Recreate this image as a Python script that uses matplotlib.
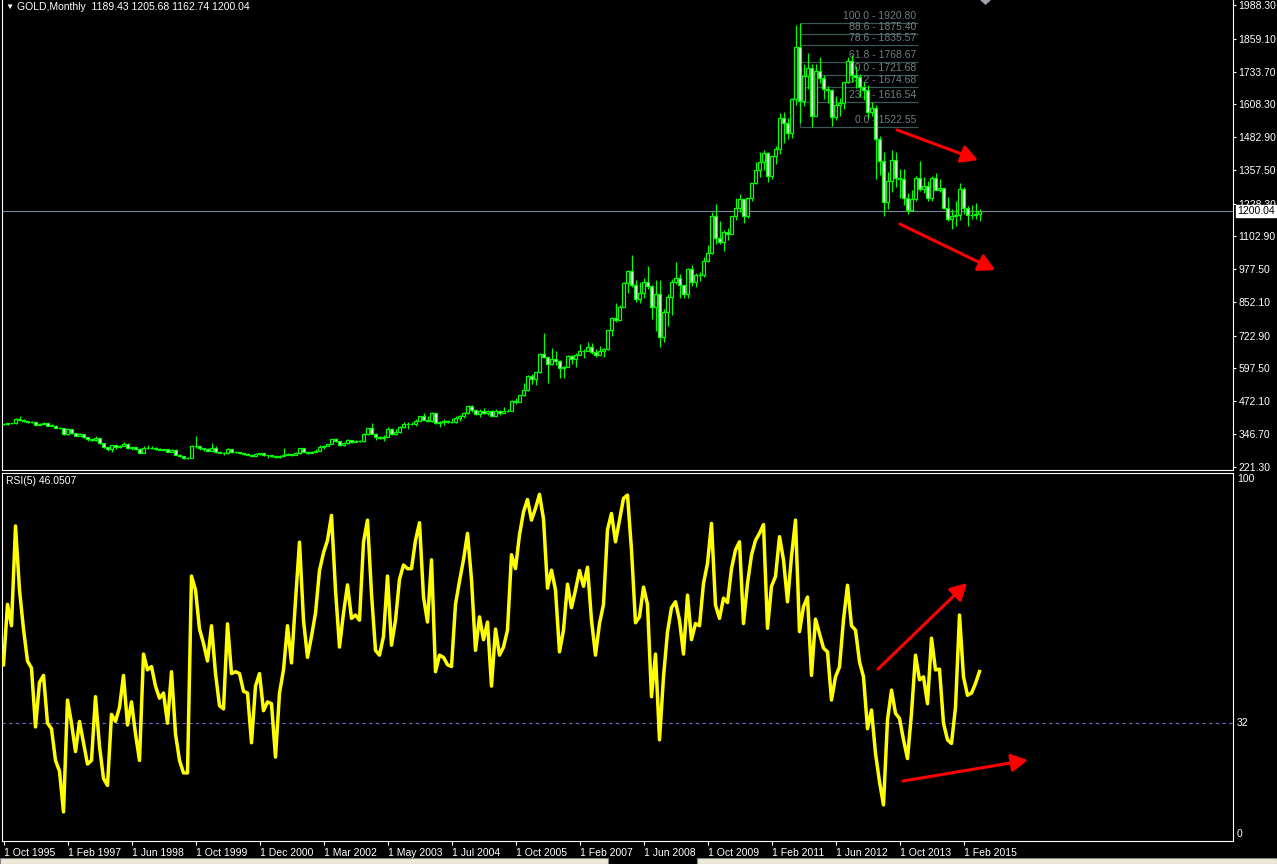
import matplotlib
matplotlib.use('Agg')
import matplotlib.pyplot as plt
from matplotlib.patches import Rectangle, Polygon
import numpy as np

# ---- data (monthly bars, index 0 = Oct 1995) ----
opens = [
    384, 383, 387, 387, 405, 400, 396, 392, 391, 382,
    385, 387, 379, 379, 371, 369, 345, 364, 349, 340,
    345, 334, 326, 325, 332, 311, 296, 290, 304, 297,
    301, 310, 293, 296, 288, 273, 294, 292, 294, 288,
    287, 288, 279, 286, 268, 261, 255, 254, 299, 299,
    292, 290, 283, 293, 277, 274, 272, 289, 276, 277,
    273, 270, 268, 264, 270, 273, 265, 267, 263, 258,
    264, 267, 270, 265, 273, 293, 279, 275, 279, 282,
    297, 302, 308, 326, 318, 305, 312, 324, 317, 318,
    319, 347, 368, 348, 334, 333, 336, 364, 346, 354,
    375, 384, 386, 386, 398, 416, 400, 396, 427, 387,
    394, 395, 393, 391, 407, 416, 428, 452, 438, 422,
    435, 428, 435, 417, 435, 428, 433, 436, 473, 470,
    495, 513, 568, 556, 583, 654, 643, 613, 633, 624,
    599, 604, 646, 632, 650, 665, 663, 680, 659, 650,
    665, 672, 743, 789, 783, 834, 923, 972, 916, 864,
    885, 928, 912, 833, 884, 718, 815, 869, 927, 942,
    916, 883, 979, 927, 955, 955, 1008, 1040, 1182, 1096,
    1081, 1118, 1113, 1179, 1213, 1244, 1181, 1248, 1307, 1357,
    1386, 1421, 1333, 1410, 1439, 1556, 1536, 1500, 1628, 1828,
    1620, 1717, 1746, 1565, 1737, 1710, 1668, 1664, 1560, 1604,
    1614, 1692, 1773, 1719, 1712, 1676, 1663, 1579, 1595, 1476,
    1393, 1234, 1313, 1396, 1327, 1323, 1250, 1202, 1244, 1326,
    1284, 1296, 1250, 1327, 1282, 1287, 1211, 1171, 1182, 1184,
    1283, 1213, 1183, 1184, 1189.43]

highs = [
    387, 390, 389, 409, 416, 402, 398, 395, 392, 389,
    391, 388, 386, 382, 373, 369, 366, 366, 349, 349,
    346, 335, 332, 337, 333, 313, 297, 305, 305, 303,
    314, 311, 298, 297, 291, 301, 305, 299, 297, 293,
    290, 290, 290, 290, 270, 264, 259, 305, 338, 302,
    294, 294, 313, 301, 283, 278, 294, 290, 281, 279,
    275, 273, 270, 272, 275, 274, 268, 268, 264, 265,
    293, 274, 271, 278, 294, 294, 279, 281, 288, 303,
    303, 310, 327, 330, 320, 315, 327, 325, 322, 322,
    350, 370, 389, 352, 340, 342, 374, 371, 367, 378,
    391, 393, 391, 402, 417, 426, 414, 430, 428, 395,
    404, 399, 409, 417, 419, 430, 455, 457, 440, 441,
    446, 439, 438, 443, 437, 448, 442, 476, 486, 497,
    540, 572, 575, 584, 655, 732, 645, 677, 664, 630,
    608, 650, 648, 655, 690, 671, 697, 693, 672, 683,
    675, 745, 795, 848, 840, 930, 975, 1032, 936, 930,
    945, 989, 915, 935, 935, 825, 881, 940, 1006, 958,
    917, 982, 992, 962, 966, 1024, 1071, 1195, 1227, 1163,
    1128, 1135, 1181, 1249, 1266, 1246, 1250, 1308, 1388, 1424,
    1432, 1424, 1412, 1448, 1576, 1577, 1557, 1632, 1912, 1921,
    1764, 1803, 1764, 1764, 1791, 1720, 1677, 1667, 1640, 1631,
    1692, 1790, 1796, 1754, 1723, 1694, 1683, 1617, 1605, 1488,
    1424, 1348, 1434, 1424, 1362, 1361, 1267, 1280, 1332, 1392,
    1331, 1315, 1332, 1345, 1323, 1287, 1255, 1207, 1239, 1307,
    1292, 1220, 1224, 1232, 1205.68]

lows = [
    381, 382, 385, 386, 398, 394, 389, 389, 380, 380,
    384, 377, 377, 369, 366, 342, 341, 347, 337, 338,
    333, 318, 318, 320, 307, 293, 283, 278, 290, 292,
    300, 290, 287, 286, 272, 272, 288, 290, 285, 285,
    283, 278, 279, 265, 257, 252, 252, 254, 294, 286,
    281, 281, 283, 274, 272, 268, 271, 275, 274, 270,
    268, 266, 262, 263, 266, 263, 255, 259, 255, 255,
    263, 265, 264, 265, 270, 277, 269, 272, 277, 281,
    288, 300, 307, 315, 301, 300, 310, 312, 314, 315,
    317, 344, 345, 322, 328, 320, 335, 342, 342, 351,
    370, 367, 380, 379, 396, 399, 391, 392, 386, 372,
    382, 388, 387, 389, 398, 409, 423, 431, 418, 411,
    423, 421, 414, 414, 418, 425, 430, 434, 461, 468,
    490, 512, 538, 535, 580, 636, 543, 610, 612, 560,
    560, 603, 613, 603, 649, 636, 663, 651, 640, 647,
    642, 669, 723, 775, 782, 833, 885, 910, 851, 849,
    866, 903, 786, 740, 681, 700, 760, 803, 920, 866,
    866, 866, 913, 908, 931, 949, 1003, 1035, 1075, 1075,
    1045, 1088, 1110, 1164, 1196, 1155, 1175, 1240, 1305, 1330,
    1357, 1309, 1324, 1381, 1419, 1462, 1477, 1478, 1604, 1535,
    1600, 1667, 1523, 1562, 1689, 1627, 1615, 1527, 1547, 1564,
    1589, 1689, 1694, 1672, 1636, 1626, 1555, 1562, 1321, 1338,
    1180, 1207, 1274, 1291, 1251, 1221, 1187, 1200, 1238, 1277,
    1268, 1240, 1240, 1281, 1273, 1206, 1161, 1131, 1142, 1167,
    1190, 1142, 1170, 1170, 1162.74]

closes = [
    383, 387, 387, 405, 400, 396, 392, 391, 382, 385,
    387, 379, 379, 371, 369, 345, 364, 349, 340, 345,
    334, 326, 325, 332, 311, 296, 290, 304, 297, 301,
    310, 293, 296, 288, 273, 294, 292, 294, 288, 287,
    288, 279, 286, 268, 261, 255, 254, 299, 299, 292,
    290, 283, 293, 277, 274, 272, 289, 276, 277, 273,
    270, 268, 264, 270, 273, 265, 267, 263, 258, 264,
    267, 270, 265, 273, 293, 279, 275, 279, 282, 297,
    302, 308, 326, 318, 305, 312, 324, 317, 318, 319,
    347, 368, 348, 334, 333, 336, 364, 346, 354, 375,
    384, 386, 386, 398, 416, 400, 396, 427, 387, 394,
    395, 393, 391, 407, 416, 428, 452, 438, 422, 435,
    428, 435, 417, 435, 428, 433, 436, 473, 470, 495,
    513, 568, 556, 583, 654, 643, 613, 633, 624, 599,
    604, 646, 632, 650, 665, 663, 680, 659, 650, 665,
    672, 743, 789, 783, 834, 923, 972, 916, 864, 885,
    928, 912, 833, 884, 718, 815, 869, 927, 942, 916,
    883, 979, 927, 955, 955, 1008, 1040, 1182, 1096, 1081,
    1118, 1113, 1179, 1213, 1244, 1181, 1248, 1307, 1357, 1386,
    1421, 1333, 1410, 1439, 1556, 1536, 1500, 1628, 1828, 1620,
    1717, 1746, 1565, 1737, 1710, 1668, 1664, 1560, 1604, 1614,
    1692, 1773, 1719, 1712, 1676, 1663, 1579, 1595, 1476, 1393,
    1234, 1313, 1396, 1327, 1323, 1250, 1202, 1244, 1326, 1284,
    1296, 1250, 1327, 1282, 1287, 1211, 1171, 1182, 1184, 1283,
    1213, 1183, 1184, 1190, 1200.04]

rsi = [
    47.9, 64.3, 58.5, 85.6, 68.2, 57.6, 48.9, 47.0, 31.0, 43.1,
    45.0, 32.0, 30.5, 21.9, 19.0, 7.9, 38.3, 32.0, 24.3, 32.5,
    26.7, 20.9, 21.9, 39.2, 25.7, 17.0, 15.1, 34.4, 32.5, 36.3,
    45.0, 31.5, 37.8, 29.1, 21.9, 50.8, 46.5, 47.4, 42.1, 38.8,
    40.2, 32.0, 46.0, 29.1, 21.9, 18.5, 18.5, 72.0, 68.2, 57.6,
    53.7, 48.9, 58.5, 45.5, 36.8, 35.9, 59.0, 45.5, 46.0, 45.5,
    40.7, 40.2, 26.7, 42.1, 45.5, 35.4, 37.8, 37.3, 22.8, 40.2,
    46.5, 58.5, 48.4, 65.3, 81.2, 60.0, 49.9, 55.6, 61.9, 73.5,
    78.3, 81.7, 88.5, 68.2, 52.7, 61.9, 69.6, 60.5, 61.4, 60.0,
    81.2, 87.2, 67.2, 51.8, 50.5, 55.6, 72.0, 53.2, 60.0, 71.1,
    75.0, 74.0, 74.0, 81.7, 86.5, 66.3, 59.5, 76.4, 46.0, 50.5,
    49.9, 47.9, 47.4, 64.3, 70.6, 76.4, 83.6, 71.1, 51.8, 60.9,
    54.7, 59.5, 42.1, 57.6, 50.5, 52.7, 57.3, 77.8, 74.0, 83.2,
    89.4, 92.8, 87.2, 90.4, 94.2, 87.5, 68.7, 73.6, 68.2, 51.4,
    57.3, 69.8, 63.4, 68.2, 73.5, 69.2, 74.4, 60.0, 50.5, 59.1,
    64.3, 84.6, 89.0, 81.3, 87.2, 93.1, 94.0, 79.1, 59.3, 60.9,
    69.0, 64.3, 39.2, 50.8, 27.5, 44.6, 56.8, 63.4, 65.0, 60.0,
    50.8, 66.8, 54.7, 59.1, 58.5, 70.0, 75.4, 86.3, 64.1, 60.5,
    66.0, 64.8, 74.0, 79.1, 81.3, 59.1, 70.0, 77.7, 81.7, 83.6,
    86.0, 57.8, 69.2, 71.9, 82.7, 76.4, 65.0, 77.3, 87.2, 56.9,
    63.7, 66.3, 45.0, 60.3, 56.4, 52.4, 51.4, 38.3, 44.6, 47.3,
    60.1, 69.5, 58.5, 57.3, 48.7, 44.6, 30.5, 35.6, 23.8, 16.1,
    9.8, 32.9, 41.0, 34.7, 33.3, 27.5, 22.4, 34.7, 50.5, 43.8,
    44.6, 37.3, 55.1, 46.5, 46.7, 32.0, 27.5, 26.5, 36.3, 61.4,
    44.6, 39.6, 40.2, 42.8, 46.05]

price_ticks = [1988.30, 1859.10, 1733.70, 1608.30, 1482.90, 1357.50, 1228.30,
               1102.90, 977.50, 852.10, 722.90, 597.50, 472.10, 346.70, 221.30]
date_labels = ['1 Oct 1995', '1 Feb 1997', '1 Jun 1998', '1 Oct 1999', '1 Dec 2000',
               '1 Mar 2002', '1 May 2003', '1 Jul 2004', '1 Oct 2005', '1 Feb 2007',
               '1 Jun 2008', '1 Oct 2009', '1 Feb 2011', '1 Jun 2012', '1 Oct 2013',
               '1 Feb 2015']
fib_levels = ['100.0', '88.6', '78.6', '61.8', '50.0', '38.2', '23.6', '0.0']
fib_prices = [1920.80, 1875.40, 1835.57, 1768.67, 1721.68, 1674.68, 1616.54, 1522.55]
bid = 1200.04
rsi_level = 32

# ---- figure ----
W, H = 1277, 864
plt.rcParams['font.family'] = ['Liberation Sans', 'DejaVu Sans']
fig = plt.figure(figsize=(W / 100, H / 100), dpi=100, facecolor='black')

def px_axes(x0, y0, x1, y1):
    a = fig.add_axes([x0 / W, 1 - y1 / H, (x1 - x0) / W, (y1 - y0) / H])
    a.set_facecolor('black')
    return a

ax = px_axes(2, 0, 1233, 470)
ax2 = px_axes(2, 473, 1233, 841)

o = np.array(opens); h = np.array(highs); l = np.array(lows); c = np.array(closes)
idx = np.arange(len(c))
up = c >= o
lime = '#00ff00'

# candles: wicks, then bull (black) and bear (white) bodies
ax.vlines(idx, l, h, color=lime, lw=0.9, zorder=3)
ax.bar(idx[up], np.maximum(c - o, 0.5)[up], bottom=o[up], width=0.62,
       color='black', edgecolor=lime, lw=0.9, zorder=4)
ax.bar(idx[~up], (o - c)[~up], bottom=c[~up], width=0.62,
       color='white', edgecolor=lime, lw=0.9, zorder=4)

# fibonacci retracement (behind the candles)
fib_x0, fib_x1 = 199, 228.6
fib_col = '#3b5757'
ax.vlines(fib_x0, fib_prices[-1], fib_prices[0], color=fib_col, lw=0.9, zorder=1)
for lv, pr in zip(fib_levels, fib_prices):
    ax.hlines(pr, fib_x0, fib_x1, color=fib_col, lw=0.9, zorder=1)
    ax.annotate(f'{lv} - {pr:.2f}', (fib_x1, pr), xytext=(-1, 1.5),
                textcoords='offset points', ha='right', va='bottom',
                color='#6e7f80', fontsize=7.5, zorder=1)

# bid line and its label
ax.axhline(bid, color='#778899', lw=0.8, zorder=2)
ax.annotate(f'{bid:.2f}', xy=(1, bid), xycoords=('axes fraction', 'data'),
            xytext=(4, 0), textcoords='offset pixels', ha='left', va='center',
            fontsize=7.5, color='black', annotation_clip=False, zorder=10,
            bbox=dict(boxstyle='square,pad=0.12', fc='white', ec='white'))

ax.set_xlim(-0.375, 307.375)
ax.set_ylim(208.7, 2007.4)
ax.set_xticks([])
ax.yaxis.tick_right()
ax.set_yticks(price_ticks)
ax.set_yticklabels([f'{v:.2f}' for v in price_ticks])
ax.tick_params(axis='y', colors='white', labelsize=7.5, length=2.5, width=0.8,
               pad=1.5, direction='out')

# RSI panel
ax2.plot(idx, rsi, color='#ffff00', lw=2.5, solid_joinstyle='round', zorder=3)
ax2.axhline(rsi_level, color='#6a6acd', lw=0.8, ls=(0, (3, 3)), zorder=2)
ax2.set_xlim(-0.375, 307.375)
ax2.set_ylim(0, 100)
ax2.set_yticks([])
ax2.set_xticks(np.arange(0, 16 * len(date_labels), 16))
ax2.set_xticklabels(date_labels)
for lbl in ax2.get_xticklabels():
    lbl.set_ha('left')
ax2.tick_params(axis='x', colors='white', labelsize=7.5, length=3, width=0.8,
                pad=2, direction='out')
for val, txt in [(98.4, '100'), (rsi_level, '32'), (1.9, '0')]:
    ax2.annotate(txt, xy=(1, val), xycoords=('axes fraction', 'data'),
                 xytext=(4, 0), textcoords='offset pixels', ha='left', va='center',
                 fontsize=7.5, color='white', annotation_clip=False)

for a in (ax, ax2):
    for s in a.spines.values():
        s.set_color('white')
        s.set_linewidth(0.8)
ax.spines['top'].set_visible(False)

# hand-drawn red arrows
arrow_kw = dict(arrowstyle='-|>,head_length=0.55,head_width=0.3', color='red',
                lw=2.2, mutation_scale=18, shrinkA=0, shrinkB=0)
for start, end in [((223.4, 1510), (243.6, 1395)), ((224.1, 1150), (247.9, 974))]:
    ax.annotate('', xy=end, xytext=start, arrowprops=arrow_kw, annotation_clip=False, zorder=12)
for start, end in [((218.6, 46.7), (240.9, 70.1)), ((224.9, 16.3), (256.1, 22.0))]:
    ax2.annotate('', xy=end, xytext=start, arrowprops=arrow_kw, annotation_clip=False, zorder=12)

# header texts
fig.text(5 / W, 1 - 7 / H, '\u25bc', color='white', fontsize=6, va='center', ha='left')
fig.text(17 / W, 1 - 7 / H, 'GOLD,Monthly  1189.43 1205.68 1162.74 1200.04',
         color='white', fontsize=7.5, va='center', ha='left')
fig.text(6 / W, 1 - 481 / H, 'RSI(5) 46.0507', color='white', fontsize=7.5,
         va='center', ha='left')

# chart shift marker and tab strip
fig.patches.append(Polygon([(980 / W, 1), (991 / W, 1), (985.5 / W, 1 - 5 / H)],
                           closed=True, transform=fig.transFigure, fc='#9fa0b0', ec='none'))
for x0, x1 in [(0, 608), (697, 1277)]:
    fig.patches.append(Rectangle((x0 / W, 0), (x1 - x0) / W, 6 / H, transform=fig.transFigure,
                                 fc='#ece9d8', ec='#808080', lw=0.8))

fig.savefig('out.png', dpi=100, facecolor='black')
